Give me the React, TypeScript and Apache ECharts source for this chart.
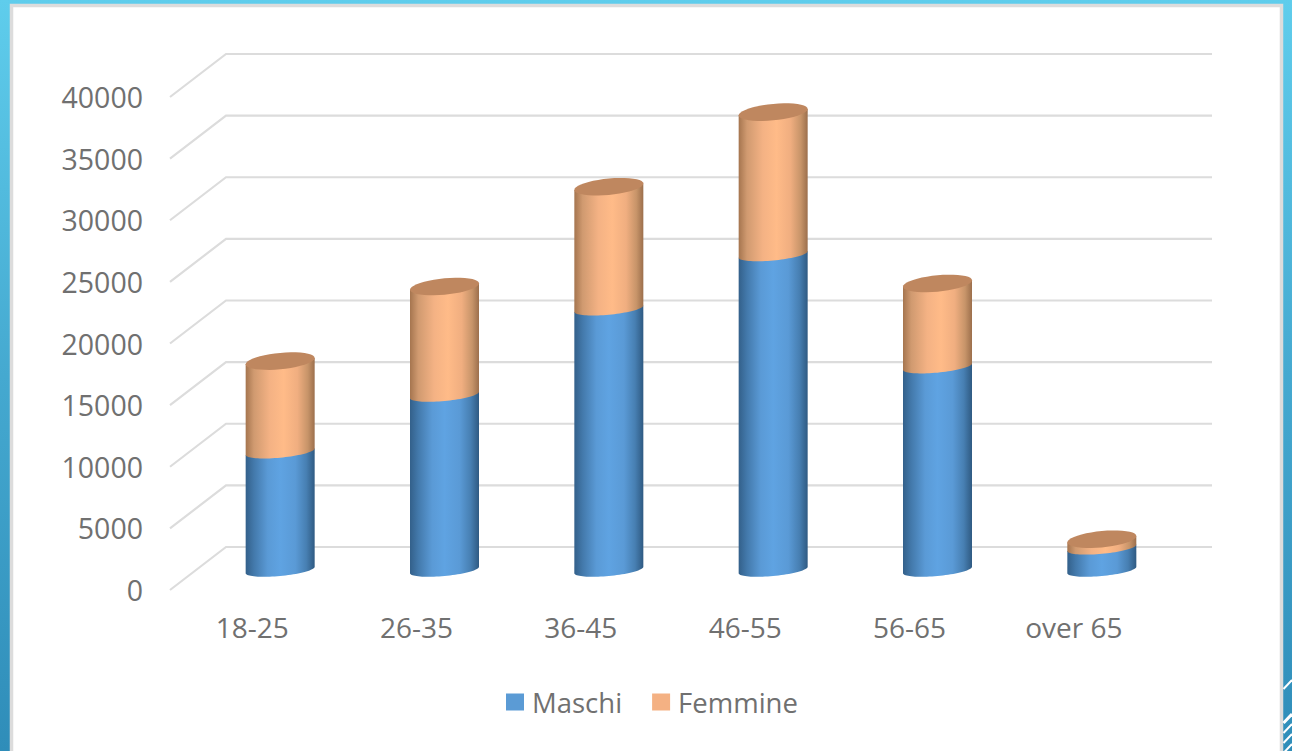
import React, { useEffect, useRef } from "react";
import * as echarts from "echarts";

const categories = ["18-25", "26-35", "36-45", "46-55", "56-65", "over 65"];
const maschi = [9600, 14200, 21200, 25600, 16500, 1800];
const femmine = [7350, 8800, 9900, 11550, 6750, 700];
const yTicks = [0, 5000, 10000, 15000, 20000, 25000, 30000, 35000, 40000];
const seriesNames = ["Maschi", "Femmine"];

const FONT = '"Open Sans", sans-serif';
const TEXT = "#707070";
const DEPTH_X = 56;
const DEPTH_Y = -43;
const BAR_DX = 28;
const BAR_DY = -20;
const HALF_W = 34.5;
const TILT = 3.2;
const RIM_B = 6;
const CAP_B = 8.2;

function arc(cx: number, cy: number, b: number, from: number, to: number) {
  const pts: number[][] = [];
  const n = 40;
  for (let i = 0; i <= n; i++) {
    const t = from + ((to - from) * i) / n;
    pts.push([cx + HALF_W * Math.cos(t), cy + b * Math.sin(t) - TILT * Math.cos(t)]);
  }
  return pts;
}

const grad = (stops: [number, string][]) =>
  new echarts.graphic.LinearGradient(0, 0, 1, 0, stops.map(([offset, color]) => ({ offset, color })));

const blueFill = () =>
  grad([[0, "#33608a"], [0.12, "#4379ab"], [0.32, "#5a9ad6"], [0.5, "#5fa3e2"], [0.72, "#5a9ad6"], [0.88, "#477fb2"], [1, "#2f5a82"]]);
const orangeFill = () =>
  grad([[0, "#a5754f"], [0.12, "#d09a70"], [0.35, "#f4b284"], [0.55, "#ffbb88"], [0.75, "#f0ae80"], [0.9, "#c79469"], [1, "#9c6f4c"]]);

function cylinderRender(fill: () => any, withCap: boolean) {
  return (_params: any, api: any) => {
    const idx = api.value(0);
    const lo = api.coord([idx, api.value(1)]);
    const hi = api.coord([idx, api.value(2)]);
    const cx = lo[0] + BAR_DX;
    const yLo = lo[1] + BAR_DY;
    const yHi = hi[1] + BAR_DY;
    const lower = arc(cx, yLo, RIM_B, Math.PI, 0);
    const points = [...lower, [cx + HALF_W, yHi - TILT], [cx - HALF_W, yHi + TILT]];
    const children: any[] = [{ type: "polygon", shape: { points }, style: { fill: fill() } }];
    if (withCap) {
      children.push({
        type: "polygon",
        shape: { points: arc(cx, yHi, CAP_B, 0, Math.PI * 2) },
        style: { fill: "#bf875f" },
      });
    }
    return { type: "group", children };
  };
}

function wallRender(params: any, api: any) {
  const v = api.value(0);
  const grid = params.coordSys;
  const y = api.coord([0, v])[1];
  return {
    type: "polyline",
    shape: {
      points: [
        [grid.x, y],
        [grid.x + DEPTH_X, y + DEPTH_Y],
        [grid.x + DEPTH_X + grid.width, y + DEPTH_Y],
      ],
    },
    style: { stroke: "#dcdcdc", lineWidth: 2.2, fill: "none" },
  };
}

export default function App() {
  const ref = useRef<HTMLDivElement>(null);
  useEffect(() => {
    document.body.style.margin = "0";
    const chart = echarts.init(ref.current!, undefined, { renderer: "svg" });
    const maschiRows = categories.map((_, i) => [i, 0, maschi[i]]);
    const femmineRows = categories.map((_, i) => [i, maschi[i], maschi[i] + femmine[i]]);
    chart.setOption({
      animation: false,
      backgroundColor: new echarts.graphic.LinearGradient(0, 0, 0, 1, [
        { offset: 0, color: "#5fcdec" },
        { offset: 0.5, color: "#45a9d0" },
        { offset: 1, color: "#2f8db9" },
      ]),
      graphic: [
        {
          type: "rect",
          silent: true,
          z: -1,
          shape: { x: 11.5, y: 5.5, width: 1270, height: 760 },
          style: { fill: "#ffffff", stroke: "#dcdcdc", lineWidth: 3.5 },
        },
        ...[[680, 2], [714, 3], [724, 2], [734, 2], [744, 2]].map(([y, w]) => ({
          type: "line",
          silent: true,
          z: -1,
          shape: { x1: 1283.5, y1: y + 9, x2: 1292, y2: y },
          style: { stroke: "#ffffff", lineWidth: w },
        })),
      ],
      grid: { left: 170, top: 97, width: 986, height: 493, containLabel: false },
      legend: {
        left: 501,
        top: 683,
        itemWidth: 18,
        itemHeight: 17,
        itemGap: 30,
        icon: "rect",
        data: seriesNames,
        textStyle: { fontFamily: FONT, fontSize: 27.5, color: TEXT, padding: [0, 0, 0, 3] },
      },
      xAxis: {
        type: "category",
        data: categories,
        axisLine: { show: false },
        axisTick: { show: false },
        axisLabel: { fontFamily: FONT, fontSize: 28, color: TEXT, margin: 23 },
      },
      yAxis: {
        type: "value",
        min: 0,
        max: 40000,
        interval: 5000,
        axisLine: { show: false },
        axisTick: { show: false },
        splitLine: { show: false },
        axisLabel: {
          fontFamily: FONT,
          fontSize: 28.5,
          color: TEXT,
          margin: 27,
          padding: [0, 0, 4, 0],
          formatter: (v: number) => String(v),
        },
      },
      series: [
        {
          type: "custom",
          name: "wall",
          z: 1,
          silent: true,
          data: yTicks.map((v) => [v]),
          encode: { y: 0 },
          renderItem: wallRender,
        },
        {
          type: "custom",
          name: seriesNames[0],
          z: 2,
          itemStyle: { color: "#5b9bd5" },
          data: maschiRows,
          encode: { x: 0, y: [1, 2] },
          renderItem: cylinderRender(blueFill, false),
        },
        {
          type: "custom",
          name: seriesNames[1],
          z: 3,
          itemStyle: { color: "#f4b183" },
          data: femmineRows,
          encode: { x: 0, y: [1, 2] },
          renderItem: cylinderRender(orangeFill, true),
        },
      ],
    });
    return () => chart.dispose();
  }, []);
  return <div ref={ref} style={{ position: "absolute", left: 0, top: 0, width: 1292, height: 751 }} />;
}
